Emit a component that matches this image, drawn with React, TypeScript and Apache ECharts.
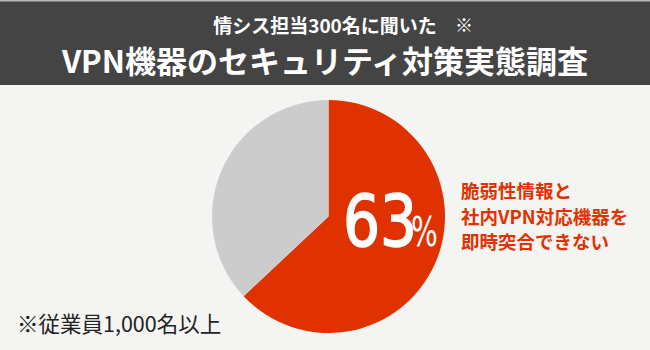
import React, { useEffect, useRef } from "react";
import * as echarts from "echarts";

const categories = ["即時突合できない", "その他"];
const values = [63, 37];
const colors = ["#e03200", "#cccccc"];
const subtitle = "情シス担当300名に聞いた";
const titleText = "VPN機器のセキュリティ対策実態調査";
const noteLines = ["脆弱性情報と", "社内VPN対応機器を", "即時突合できない"];
const footnote = "※従業員1,000名以上";

export default function App() {
  const ref = useRef<HTMLDivElement>(null);
  useEffect(() => {
    if (!ref.current) return;
    const chart = echarts.init(ref.current, null, { renderer: "svg" });
    const jp = "'Noto Sans CJK JP', 'Noto Sans', sans-serif";
    const narrow = "'Liberation Sans Narrow', 'DejaVu Sans Condensed', sans-serif";
    chart.setOption({
      animation: false,
      backgroundColor: "#f4f4f2",
      series: [
        {
          type: "pie",
          center: [328.5, 216.5],
          radius: [0, 116.5],
          startAngle: 90,
          clockwise: true,
          silent: true,
          label: { show: false },
          labelLine: { show: false },
          itemStyle: { borderWidth: 0 },
          data: categories.map((c, i) => ({
            name: c,
            value: values[i],
            itemStyle: { color: colors[i] },
          })),
        },
      ],
      graphic: [
        { type: "rect", z: 10, shape: { x: 0, y: 0, width: 650, height: 85 }, style: { fill: "#444444" } },
        { type: "rect", z: 11, shape: { x: 0, y: 0, width: 650, height: 1.5 }, style: { fill: "#b8b8b8" } },
        {
          type: "text",
          z: 20,
          x: 325,
          y: 24,
          style: {
            text: subtitle,
            fill: "#ffffff",
            font: `bold 19px ${jp}`,
            align: "center",
            verticalAlign: "middle",
          },
        },
        {
          type: "text",
          z: 20,
          x: 464,
          y: 24,
          style: {
            text: "※",
            fill: "#ffffff",
            font: `bold 18px ${jp}`,
            align: "center",
            verticalAlign: "middle",
          },
        },
        {
          type: "text",
          z: 20,
          x: 325,
          y: 59,
          style: {
            text: titleText,
            fill: "#ffffff",
            font: `bold 31px ${jp}`,
            align: "center",
            verticalAlign: "middle",
          },
        },
        {
          type: "text",
          z: 20,
          x: 343,
          y: 221,
          scaleX: 0.9,
          style: {
            text: String(values[0]),
            fill: "#ffffff",
            stroke: "#ffffff",
            lineWidth: 1.5,
            font: `72px ${narrow}`,
            align: "left",
            verticalAlign: "middle",
          },
        },
        {
          type: "text",
          z: 20,
          x: 411,
          y: 232,
          scaleX: 0.78,
          style: {
            text: "%",
            fill: "#ffffff",
            font: `40px ${narrow}`,
            align: "left",
            verticalAlign: "middle",
          },
        },
        ...noteLines.map((t, i) => ({
          type: "text",
          z: 20,
          x: 461,
          y: 190 + i * 25.5,
          style: {
            text: t,
            fill: "#e03200",
            font: `bold 18.5px ${jp}`,
            align: "left",
            verticalAlign: "middle",
          },
        })),
        {
          type: "text",
          z: 20,
          x: 17,
          y: 322,
          style: {
            text: footnote,
            fill: "#222222",
            font: `21.5px ${jp}`,
            align: "left",
            verticalAlign: "middle",
          },
        },
      ],
    });
    return () => chart.dispose();
  }, []);
  return (
    <div
      ref={ref}
      style={{ position: "fixed", left: 0, top: 0, width: 650, height: 350 }}
    />
  );
}
